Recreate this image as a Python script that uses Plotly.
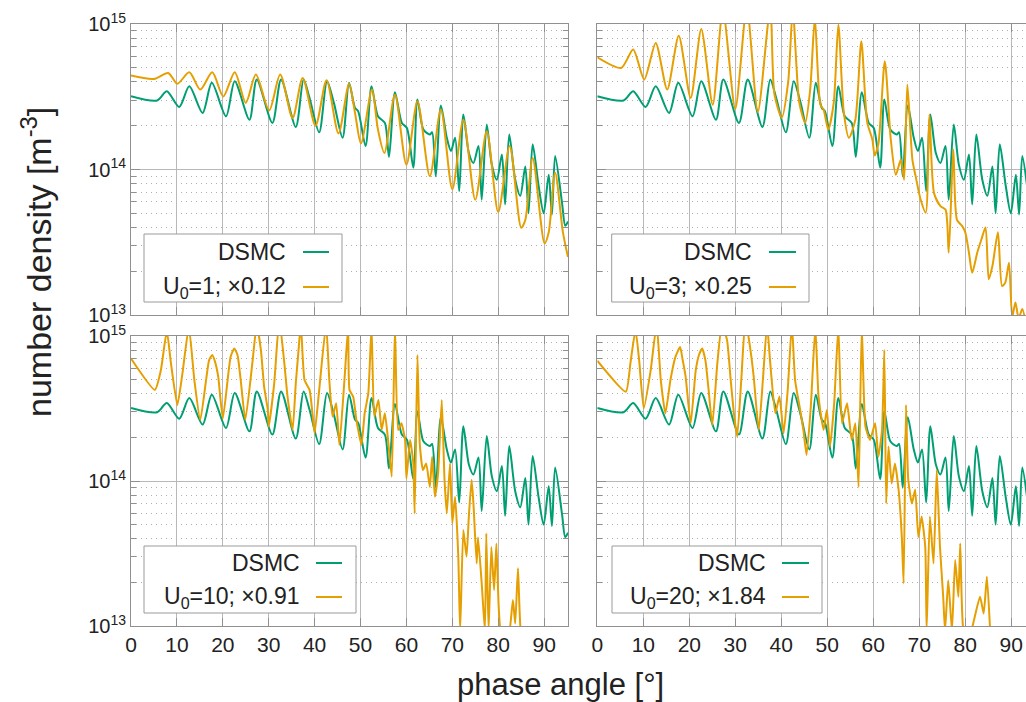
import plotly.graph_objects as go

# ---------------- data ----------------
dsmc_x = [0, 5.7, 7.8, 10.5, 12.7, 15.6, 17.6, 20.7, 22.6, 25.8, 27.4, 30.8, 32.7, 35.9, 37.6, 38.9,
          41.0, 42.7, 44.2, 46.1, 47.5, 48.8, 49.5, 51.1, 52.4, 53.8, 55.3, 56.2, 57.5, 59.0, 60.1,
          61.5, 62.4, 63.7, 65.1, 65.6, 66.4, 67.5, 68.8, 69.7, 70.6, 71.5, 72.4, 73.6, 74.6, 75.7,
          76.4, 77.5, 78.6, 79.7, 80.8, 81.5, 82.4, 83.7, 84.8, 85.9, 86.6, 87.5, 88.8, 89.9, 91.0,
          91.7, 92.4, 93.9, 94.6, 95.2]
dsmc_y = [3.19e14, 2.98e14, 3.45e14, 2.69e14, 3.73e14, 2.45e14, 3.94e14, 2.32e14, 4.04e14, 2.20e14,
          4.15e14, 2.09e14, 4.15e14, 1.96e14, 4.15e14, 3.10e14, 1.80e14, 4.04e14, 2.87e14, 1.65e14,
          3.94e14, 2.65e14, 2.51e14, 1.45e14, 3.73e14, 2.32e14, 2.09e14, 1.22e14, 3.40e14, 2.09e14,
          1.93e14, 1.03e14, 3.03e14, 1.88e14, 1.74e14, 1.80e14, 9.0e13, 2.75e14, 1.65e14, 1.34e14,
          1.65e14, 7.1e13, 2.39e14, 1.30e14, 1.11e14, 1.45e14, 6.2e13, 2.04e14, 1.08e14, 8.5e13,
          1.27e14, 5.75e13, 1.74e14, 8.5e13, 6.6e13, 1.05e14, 5.0e13, 1.49e14, 7.7e13, 5.0e13,
          9.2e13, 4.9e13, 1.24e14, 5.9e13, 4.1e13, 4.4e13]

u1_x = [0, 5.0, 8.1, 10.1, 12.7, 15.1, 17.7, 20.1, 22.6, 25.0, 27.2, 30.1, 32.5, 35.2, 37.4, 40.2,
        42.6, 45.2, 47.5, 48.8, 50.1, 52.5, 53.8, 55.2, 57.5, 60.0, 62.4, 65.1, 67.5, 70.0, 72.4,
        75.0, 77.5, 80.0, 82.5, 85.0, 85.9, 87.5, 90.1, 91.0, 92.4, 94.1, 95.2]
u1_y = [4.42e14, 4.19e14, 4.61e14, 3.89e14, 4.66e14, 3.54e14, 4.66e14, 3.18e14, 4.66e14, 2.87e14,
        4.49e14, 2.55e14, 4.49e14, 2.26e14, 4.26e14, 2.00e14, 4.10e14, 1.77e14, 3.89e14, 2.45e14,
        1.51e14, 3.54e14, 1.88e14, 1.30e14, 3.27e14, 1.08e14, 2.94e14, 9.0e13, 2.58e14, 7.3e13,
        2.20e14, 6.2e13, 1.83e14, 5.1e13, 1.45e14, 3.98e13, 4.5e13, 1.20e14, 3.1e13, 3.7e13,
        9.5e13, 3.7e13, 2.5e13]

u3_x = [0, 5.2, 7.8, 10.2, 12.7, 15.2, 17.7, 20.3, 22.6, 25.1, 27.3, 30.0, 32.5, 34.9, 37.6, 38.5,
        40.1, 41.5, 42.5, 43.9, 45.2, 46.3, 47.3, 48.5, 49.2, 50.2, 51.4, 52.4, 53.6, 54.7, 56.1,
        57.4, 58.7, 59.8, 60.3, 61.1, 62.5, 63.8, 64.9, 66.0, 66.7, 67.4, 68.5, 69.2, 70.3, 71.4,
        72.2, 73.2, 74.6, 75.7, 76.4, 77.4, 78.2, 79.3, 80.0, 80.8, 81.5, 82.6, 83.5, 84.4, 85.1,
        85.9, 87.1, 88.0, 88.7, 89.5, 90.2, 90.9, 91.6, 92.4, 93.2]
u3_y = [5.9e14, 4.99e14, 6.67e14, 4.15e14, 7.41e14, 3.54e14, 8.3e14, 3.10e14, 9.25e14, 2.79e14,
        1.25e15, 2.61e14, 1.3e15, 2.48e14, 1.3e15, 3.3e14, 2.27e14, 4.0e14, 1.25e15, 2.9e14,
        2.09e14, 3.6e14, 1.1e15, 2.79e14, 2.58e14, 1.88e14, 2.87e14, 9.9e14, 2.45e14, 1.65e14,
        2.20e14, 7.6e14, 2.09e14, 1.61e14, 1.25e14, 1.49e14, 5.55e14, 1.61e14, 9.2e13, 1.17e14,
        8.5e13, 3.84e14, 1.17e14, 9.0e13, 6.2e13, 5.05e13, 2.39e14, 6.9e13, 5.6e13, 5.3e13,
        2.68e13, 1.37e14, 4.5e13, 4.1e13, 3.7e13, 2.68e13, 1.95e13, 2.68e13, 3.3e13, 4.0e13,
        1.76e13, 2.17e13, 3.7e13, 1.58e13, 1.67e13, 2.29e13, 9.7e12, 1.22e13, 9.5e12, 1.1e13,
        8.5e12]

u10_x = [0, 5.2, 6.5, 7.8, 8.7, 10.1, 11.2, 12.6, 13.8, 15.1, 17.0, 17.7, 18.3, 19.0, 20.0, 21.7,
         22.5, 23.2, 23.9, 24.9, 26.5, 27.4, 28.3, 29.0, 29.8, 30.0, 31.2, 32.3, 33.4, 34.1, 35.2,
         35.9, 36.5, 37.0, 37.8, 38.9, 39.6, 40.0, 41.0, 42.5, 43.2, 43.9, 44.7, 45.4, 46.5, 47.3,
         47.6, 48.4, 49.1, 50.2, 50.9, 51.7, 52.4, 53.0, 53.9, 54.6, 55.3, 56.0, 56.8, 57.5, 58.2,
         58.9, 59.7, 60.0, 60.8, 61.5, 61.8, 62.4, 62.9, 63.6, 64.3, 65.1, 65.6, 66.2, 66.9, 67.7,
         68.3, 68.8, 69.5, 70.0, 70.6, 71.3, 71.7, 72.4, 73.1, 73.6, 74.2, 74.6, 75.3, 75.6, 76.4,
         77.1, 77.4, 77.9, 78.5, 79.1, 79.6, 80.1, 80.7, 82.1, 83.2, 83.7, 84.3, 84.9, 86.0]
u10_y = [7.0e14, 4.25e14, 5.8e14, 1.08e15, 6.5e14, 3.34e14, 5.5e14, 1.15e15, 4.97e14, 2.64e14,
         6.8e14, 7.4e14, 6.66e14, 5.25e14, 2.7e14, 7.2e14, 8.2e14, 7.4e14, 4.97e14, 2.64e14,
         6.8e14, 1.2e15, 8.0e14, 4.48e14, 3.09e14, 2.37e14, 4.72e14, 1.3e15, 6.5e14, 3.82e14,
         2.25e14, 4.72e14, 8.0e14, 1.2e15, 4.97e14, 4.25e14, 2.78e14, 2.13e14, 4.25e14, 1.2e15,
         4.97e14, 2.78e14, 3.44e14, 1.77e14, 4.97e14, 1.15e15, 4.25e14, 3.82e14, 2.64e14, 1.77e14,
         2.93e14, 4.03e14, 1.15e15, 2.78e14, 3.62e14, 2.25e14, 2.93e14, 1.92e14, 1.07e14, 1.15e15,
         2.25e14, 2.50e14, 1.92e14, 1.04e14, 1.92e14, 1.32e14, 5.98e13, 7.4e14, 1.82e14, 1.19e14,
         1.32e14, 9.1e13, 1.47e14, 7.8e13, 1.13e14, 3.62e14, 1.02e14, 5.98e13, 1.32e14, 5.1e13,
         7.8e13, 3.0e13, 9.3e12, 4.6e13, 3.0e13, 5.7e13, 1.02e14, 7.0e13, 2.7e13, 4.1e13,
         1.97e13, 9.3e12, 4.35e13, 9.3e12, 3.5e13, 1.77e13, 3.7e13, 1.36e13, 8.5e12, 8.0e12,
         1.51e13, 1.04e13, 2.5e13, 9.3e12, 7.0e12]

u20_x = [0, 6.2, 7.2, 8.3, 9.1, 10.1, 11.6, 12.9, 13.8, 14.8, 15.9, 17.0, 18.0, 18.5, 19.2, 20.3,
         21.4, 22.1, 22.8, 23.5, 24.2, 25.0, 26.1, 27.1, 28.2, 29.0, 29.7, 30.4, 31.3, 32.2, 33.3,
         34.0, 35.1, 36.0, 36.9, 37.6, 38.7, 39.6, 40.5, 41.4, 42.3, 43.0, 44.1, 44.8, 45.5, 46.4,
         47.4, 48.1, 49.2, 49.9, 50.6, 51.5, 52.4, 53.2, 54.3, 55.3, 56.1, 56.8, 57.5, 58.3, 59.3,
         60.4, 61.1, 61.9, 62.4, 62.8, 63.3, 64.0, 64.7, 65.5, 66.2, 66.6, 67.1, 67.6, 68.4, 69.1,
         69.8, 70.5, 71.3, 71.6, 72.3, 73.1, 73.8, 74.5, 75.2, 75.6, 76.3, 77.1, 77.8, 78.5, 78.9,
         79.6, 80.7, 83.2, 84.0, 84.7, 85.4]
u20_y = [6.76e14, 4.13e14, 6.5e14, 1.1e15, 6.8e14, 3.17e14, 5.8e14, 1.2e15, 4.97e14, 2.93e14,
         4.97e14, 7.2e14, 8.4e14, 7.0e14, 5.25e14, 2.50e14, 5.8e14, 7.4e14, 8.2e14, 6.8e14,
         4.25e14, 2.43e14, 6.5e14, 1.2e15, 9.4e14, 4.97e14, 2.93e14, 2.02e14, 4.97e14, 1.3e15,
         8.0e14, 5.25e14, 2.25e14, 4.97e14, 1.2e15, 6.5e14, 2.93e14, 3.82e14, 2.13e14, 4.25e14,
         1.2e15, 4.97e14, 3.09e14, 2.25e14, 1.51e14, 3.2e14, 1.15e15, 3.82e14, 2.25e14, 3.09e14,
         1.73e14, 3.44e14, 1.15e15, 2.5e14, 3.44e14, 1.92e14, 2.5e14, 9.1e13, 1.15e15, 2.37e14,
         1.92e14, 2.5e14, 1.47e14, 2.25e14, 8.0e14, 7.0e13, 1.73e14, 9.6e13, 1.32e14, 8.7e13,
         4.1e13, 1.97e13, 3.34e14, 1.02e14, 7.0e13, 8.7e13, 4.1e13, 5.7e13, 3.5e13, 9.3e12,
         5.7e13, 2.7e13, 1.19e14, 3.5e13, 1.59e13, 9.3e12, 2.07e13, 9.3e12, 2.85e13, 1.59e13,
         3.7e13, 9.3e12, 8.0e12, 1.59e13, 1.22e13, 2.19e13, 9.3e12]

labels = ["U<sub>0</sub>=1; ×0.12", "U<sub>0</sub>=3; ×0.25",
          "U<sub>0</sub>=10; ×0.91", "U<sub>0</sub>=20; ×1.84"]
series = [(u1_x, u1_y), (u3_x, u3_y), (u10_x, u10_y), (u20_x, u20_y)]
ytick_vals = [1e13, 1e14, 1e15]
ytick_text = ["10<sup>13</sup>", "10<sup>14</sup>", "10<sup>15</sup>"]
minor_vals = [m * 10 ** e for e in (13, 14) for m in range(2, 10)]
xtick_vals = [0, 10, 20, 30, 40, 50, 60, 70, 80, 90]

GREEN = "#009e73"
ORANGE = "#e69f00"
FONT = "Liberation Sans"
TXT = "#222222"

# ---------------- layout helpers (pixel -> paper) ----------------
W, H = 1026, 702
L, R, T, B = 131, 0, 24, 76
PW, PH = W - L - R, H - T - B


def px(x):
    return (x - L) / PW


def py(y):
    return (T + PH - y) / PH


xdom = [[0, px(568)], [px(597.3), 1.0]]
ydom = [[py(315), 1.0], [0, py(336)]]
xmax = [95.2, 93.2]
smooth = [0.8, 0.7, 0.5, 0.5]

fig = go.Figure()
panels = [(0, 0), (0, 1), (1, 0), (1, 1)]  # (row, col)
for i, (r, c) in enumerate(panels):
    k = i + 1
    xa = "x" if k == 1 else f"x{k}"
    ya = "y" if k == 1 else f"y{k}"
    fig.add_trace(go.Scatter(x=dsmc_x, y=dsmc_y, mode="lines",
                             line=dict(color=GREEN, width=2, shape="spline", smoothing=0.8),
                             xaxis=xa, yaxis=ya, showlegend=False))
    sx, sy = series[i]
    fig.add_trace(go.Scatter(x=sx, y=sy, mode="lines",
                             line=dict(color=ORANGE, width=2, shape="spline", smoothing=smooth[i]),
                             xaxis=xa, yaxis=ya, showlegend=False))
    xname = "xaxis" if k == 1 else f"xaxis{k}"
    yname = "yaxis" if k == 1 else f"yaxis{k}"
    fig.layout[xname] = dict(
        domain=xdom[c], anchor=ya, range=[0, xmax[c]], tickmode="array", tickvals=xtick_vals,
        showticklabels=(r == 1), ticks="inside", ticklen=8, tickcolor="#909090",
        showgrid=True, gridcolor="#b8b8b8", gridwidth=1, zeroline=False,
        showline=True, linecolor="#909090", linewidth=1, mirror="ticks",
        tickfont=dict(family=FONT, size=21, color=TXT),
    )
    fig.layout[yname] = dict(
        domain=ydom[r], anchor=xa, type="log", range=[13, 15], tickmode="array",
        tickvals=ytick_vals, ticktext=ytick_text, showticklabels=(c == 0),
        ticks="inside", ticklen=9, tickcolor="#909090",
        showgrid=True, gridcolor="#b8b8b8", gridwidth=1, zeroline=False,
        showline=True, linecolor="#909090", linewidth=1, mirror=("ticks" if c == 0 else False),
        tickfont=dict(family=FONT, size=20, color=TXT),
        minor=dict(tickmode="array", tickvals=minor_vals, ticks="inside", ticklen=5,
                   tickcolor="#909090", showgrid=True, gridcolor="#b0b0b0",
                   griddash="1px,4px", gridwidth=1),
    )

# ---------------- custom keys ----------------
keys = [
    # box x0,x1,y0,y1, text right, line x0,x1, row1 y, row2 y
    (144, 342, 234, 302, 288, 303, 329, 252, 287),
    (611.7, 809, 234, 302, 754, 769, 796, 252, 287),
    (144, 356, 546, 613, 302, 316, 342, 563, 597),
    (612, 822, 546, 613, 768, 782, 809, 563, 597),
]
shapes = []
annotations = []
for i, (bx0, bx1, by0, by1, tr, lx0, lx1, r1, r2) in enumerate(keys):
    shapes.append(dict(type="rect", xref="paper", yref="paper", x0=px(bx0), x1=px(bx1),
                       y0=py(by1), y1=py(by0), fillcolor="white",
                       line=dict(color="#9a9a9a", width=1), layer="above"))
    for ry, col, txt in ((r1, GREEN, "DSMC"), (r2, ORANGE, labels[i])):
        shapes.append(dict(type="line", xref="paper", yref="paper", x0=px(lx0), x1=px(lx1),
                           y0=py(ry), y1=py(ry), line=dict(color=col, width=2), layer="above"))
        annotations.append(dict(text=txt, xref="paper", yref="paper", x=px(tr), y=py(ry),
                                xanchor="right", yanchor="middle", showarrow=False,
                                font=dict(family=FONT, size=23, color=TXT)))

annotations.append(dict(text="number density [m<sup>-3</sup>]", xref="paper", yref="paper",
                        x=px(36), y=py(262), textangle=-90, xanchor="center", yanchor="middle",
                        showarrow=False, font=dict(family=FONT, size=34, color=TXT)))
annotations.append(dict(text="phase angle [°]", xref="paper", yref="paper",
                        x=px(560), y=py(684), xanchor="center", yanchor="middle",
                        showarrow=False, font=dict(family=FONT, size=31, color=TXT)))

fig.update_layout(width=W, height=H, margin=dict(l=L, r=R, t=T, b=B),
                  paper_bgcolor="white", plot_bgcolor="white",
                  shapes=shapes, annotations=annotations, showlegend=False)
fig.write_html("out.html")
